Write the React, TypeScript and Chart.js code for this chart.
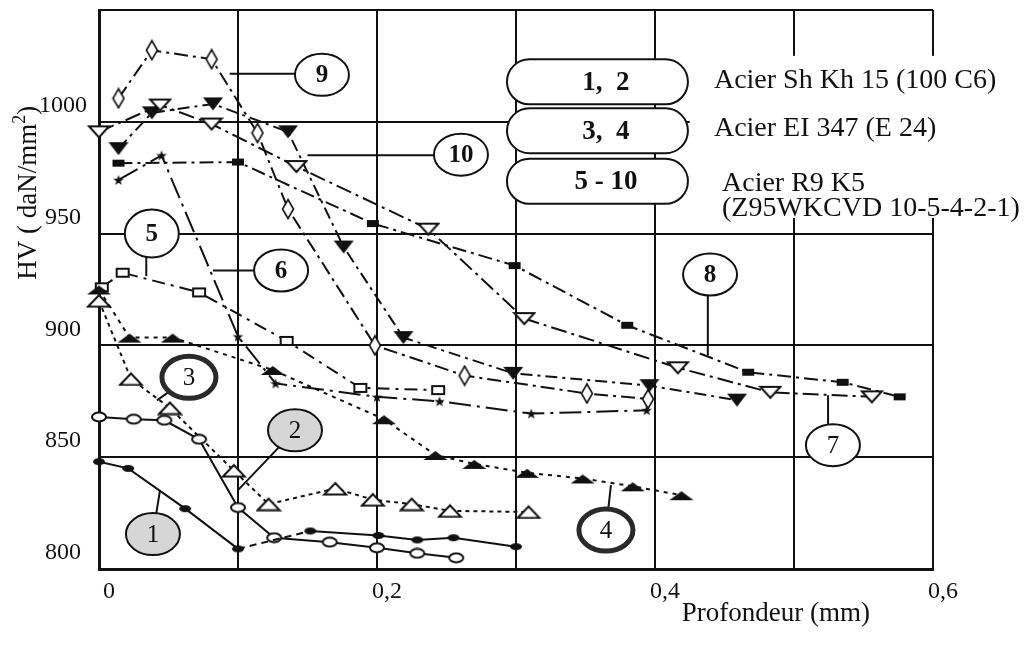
import React, { useEffect, useRef } from 'react';
import { Chart, registerables } from 'chart.js';

Chart.register(...registerables);

// ---- data: x = Profondeur (mm), y = HV (daN/mm²) ----
const curve1X = [0, 0.021, 0.062, 0.1, 0.152, 0.201, 0.229, 0.255, 0.3];
const curve1Y = [848, 845, 827, 809, 817, 815, 813, 814, 810];
const curve2X = [0, 0.025, 0.047, 0.072, 0.1, 0.126, 0.166, 0.2, 0.229, 0.257];
const curve2Y = [868, 867, 866.5, 858, 827.5, 814, 812, 809.5, 807, 805];
const curve3X = [0, 0.023, 0.051, 0.097, 0.122, 0.17, 0.197, 0.225, 0.2525, 0.309];
const curve3Y = [920, 885, 872, 844, 829, 836, 831, 829, 826, 825.5];
const curve4X = [0, 0.022, 0.053, 0.125, 0.205, 0.242, 0.27, 0.308, 0.348, 0.384, 0.419];
const curve4Y = [925, 903.5, 903.5, 889, 867, 851, 847, 843, 840.5, 837, 833];
const curve5X = [0.002, 0.017, 0.072, 0.135, 0.188, 0.244];
const curve5Y = [926, 932.5, 923.7, 902, 881, 880];
const curve6X = [0.014, 0.045, 0.1, 0.127, 0.2, 0.245, 0.311, 0.394];
const curve6Y = [974, 985, 904, 883, 877, 875, 869.5, 871];
const curve7X = [0, 0.044, 0.081, 0.142, 0.237, 0.306, 0.4165, 0.483, 0.556];
const curve7Y = [995.5, 1007.5, 999, 980, 952, 912, 890, 879, 877];
const curve8X = [0.014, 0.038, 0.082, 0.136, 0.176, 0.219, 0.298, 0.396, 0.459];
const curve8Y = [988, 1004, 1008, 995.5, 944, 903.5, 887.5, 882, 875.5];
const curve9X = [0.014, 0.038, 0.081, 0.114, 0.136, 0.1985, 0.263, 0.351, 0.395];
const curve9Y = [1010.5, 1032, 1028, 995, 961, 900, 886.5, 878.5, 876];
const curve10X = [0.014, 0.1, 0.197, 0.299, 0.38, 0.467, 0.535, 0.576];
const curve10Y = [981.5, 982, 954.5, 935.7, 909, 888, 883.5, 877];

const curveXs = [curve1X, curve2X, curve3X, curve4X, curve5X, curve6X, curve7X, curve8X, curve9X, curve10X];
const curveYs = [curve1Y, curve2Y, curve3Y, curve4Y, curve5Y, curve6Y, curve7Y, curve8Y, curve9Y, curve10Y];
const curveNames = ['1', '2', '3', '4', '5', '6', '7', '8', '9', '10'];
const curveDashes = [[], [], [4, 4], [4, 5], [13, 6, 3, 6], [22, 6, 3, 6], [16, 5, 3, 5], [12, 5, 3, 5], [14, 5, 3, 5], [14, 5, 3, 5]];

// axis ticks
const xTickLabels = ['0', '0,2', '0,4', '0,6'];
const yTickValues = [800, 850, 900, 950, 1000];
const yTitle = 'HV ( daN/mm';
const yTitleSup = '2';
const xTitle = 'Profondeur (mm)';

// numbered call-outs (data coordinates)
const calloutText = ['1', '2', '3', '4', '5', '6', '7', '8', '9', '10'];
const calloutX = [0.0388, 0.141, 0.0647, 0.3647, 0.038, 0.131, 0.528, 0.4396, 0.1604, 0.2604];
const calloutY = [815.6, 862, 885.7, 817.4, 950, 933.5, 855.4, 931.7, 1021, 985.3];
const leaderFromX = [0.0388, 0.141, 0.0647, 0.3647, 0.034, 0.131, 0.5245, 0.438, 0.1604, 0.2604];
const leaderFromY = [815.6, 862, 885.7, 817.4, 950, 933.5, 855.4, 931.7, 1021.5, 985];
const leaderToX = [0.0439, 0.1, 0.0417, 0.3683, 0.034, 0.082, 0.5245, 0.438, 0.094, 0.15];
const leaderToY = [835.3, 835.3, 875.4, 837.5, 931, 933.5, 877.7, 895.5, 1021.5, 985];
const calloutKind = ['shade', 'shade', 'thick', 'thick', 'plain', 'plain', 'plain', 'plain', 'plain', 'plain'];
const calloutBold = [false, false, false, false, true, true, false, true, true, true];

// legend (material key)
const legendKeys = ['1,  2', '3,  4', '5 - 10'];
const legendLines = [['Acier Sh Kh 15 (100 C6)'], ['Acier EI 347 (E 24)'], ['Acier R9 K5', '(Z95WKCVD 10-5-4-2-1)']];
const legendKeyCenterY = [1017.9, 996, 973.4];
const legendTextX = [0.4424, 0.4424, 0.4482];
const legendBaselines = [[1015.2], [993.75], [969.2, 958]];

const SERIF = "'Liberation Serif', 'Times New Roman', serif";
const INK = '#111';

function marker(w: number, h: number, draw: (g: CanvasRenderingContext2D) => void) {
  const c = document.createElement('canvas');
  c.width = w;
  c.height = h;
  const g = c.getContext('2d') as CanvasRenderingContext2D;
  g.fillStyle = INK;
  g.strokeStyle = INK;
  g.lineWidth = 2;
  draw(g);
  return c;
}

function poly(g: CanvasRenderingContext2D, pts: number[][]) {
  g.beginPath();
  g.moveTo(pts[0][0], pts[0][1]);
  for (let i = 1; i < pts.length; i++) g.lineTo(pts[i][0], pts[i][1]);
  g.closePath();
}

function makeMarkers() {
  const m1 = marker(14, 9, (g) => { g.beginPath(); g.ellipse(7, 4.5, 6, 3.5, 0, 0, Math.PI * 2); g.fill(); });
  const m2 = marker(18, 12, (g) => { g.beginPath(); g.ellipse(9, 6, 7, 4.5, 0, 0, Math.PI * 2); g.fillStyle = '#fff'; g.fill(); g.stroke(); });
  const m3 = marker(26, 15, (g) => { poly(g, [[2, 13.5], [13, 2], [24, 13.5]]); g.fillStyle = '#fff'; g.fill(); g.stroke(); });
  const m4 = marker(26, 12, (g) => { poly(g, [[1, 11], [13, 2], [25, 11]]); g.fill(); });
  const m5 = marker(16, 12, (g) => { g.fillStyle = '#fff'; g.fillRect(2, 2, 12, 8); g.strokeRect(2, 2, 12, 8); });
  const m6 = marker(12, 12, (g) => {
    const pts: number[][] = [];
    for (let i = 0; i < 10; i++) {
      const r = i % 2 === 0 ? 5.5 : 2.3;
      const a = -Math.PI / 2 + (i * Math.PI) / 5;
      pts.push([6 + r * Math.cos(a), 6.5 + r * Math.sin(a)]);
    }
    poly(g, pts);
    g.fill();
  });
  const m7 = marker(24, 15, (g) => { poly(g, [[2, 2], [22, 2], [12, 13]]); g.fillStyle = '#fff'; g.fill(); g.stroke(); });
  const m8 = marker(22, 15, (g) => { poly(g, [[1, 1], [21, 1], [11, 14]]); g.fill(); });
  const m9 = marker(14, 22, (g) => { g.lineWidth = 1.6; poly(g, [[7, 1.5], [12.5, 11], [7, 20.5], [1.5, 11]]); g.fillStyle = '#fff'; g.fill(); g.stroke(); });
  const m10 = marker(14, 9, (g) => { g.fillRect(1, 1, 12, 7); });
  return [m1, m2, m3, m4, m5, m6, m7, m8, m9, m10];
}

function ellipsePath(ctx: CanvasRenderingContext2D, cx: number, cy: number, rx: number, ry: number) {
  ctx.beginPath();
  ctx.ellipse(cx, cy, rx, ry, 0, 0, Math.PI * 2);
}

function pillPath(ctx: CanvasRenderingContext2D, x0: number, x1: number, cy: number, r: number) {
  ctx.beginPath();
  ctx.moveTo(x0 + r, cy - r);
  ctx.lineTo(x1 - r, cy - r);
  ctx.arc(x1 - r, cy, r, -Math.PI / 2, Math.PI / 2);
  ctx.lineTo(x0 + r, cy + r);
  ctx.arc(x0 + r, cy, r, Math.PI / 2, (3 * Math.PI) / 2);
  ctx.closePath();
}

const notesPlugin = {
  id: 'notes',
  beforeDatasetsDraw(chart: any) {
    const { ctx, scales } = chart;
    const X = (v: number) => scales.x.getPixelForValue(v);
    const Y = (v: number) => scales.y.getPixelForValue(v);
    // white panel behind the material key
    ctx.save();
    ctx.fillStyle = '#fff';
    const bx = X(0.425);
    const by = Y(1029.5);
    const bb = Y(957);
    ctx.fillRect(bx, by, chart.width - bx, bb - by);
    ctx.restore();
  },
  afterDatasetsDraw(chart: any) {
    const { ctx, scales, chartArea } = chart;
    const X = (v: number) => scales.x.getPixelForValue(v);
    const Y = (v: number) => scales.y.getPixelForValue(v);
    ctx.save();

    // call-outs
    for (let i = 0; i < calloutText.length; i++) {
      ctx.strokeStyle = INK;
      ctx.lineWidth = 2;
      ctx.setLineDash([]);
      ctx.beginPath();
      ctx.moveTo(X(leaderFromX[i]), Y(leaderFromY[i]));
      ctx.lineTo(X(leaderToX[i]), Y(leaderToY[i]));
      ctx.stroke();
    }
    for (let i = 0; i < calloutText.length; i++) {
      const cx = X(calloutX[i]);
      const cy = Y(calloutY[i]);
      const kind = calloutKind[i];
      const rx = 27;
      const ry = i === 4 ? 24 : 21;
      ellipsePath(ctx, cx, cy, rx, ry);
      ctx.fillStyle = kind === 'shade' ? '#d6d6d6' : '#fff';
      ctx.fill();
      if (kind === 'thick') {
        ctx.lineWidth = 5;
        ctx.strokeStyle = '#2a2a2a';
      } else {
        ctx.lineWidth = 2;
        ctx.strokeStyle = INK;
      }
      ctx.stroke();
      ctx.fillStyle = INK;
      ctx.font = `${calloutBold[i] ? 'bold ' : ''}25px ${SERIF}`;
      ctx.textAlign = 'center';
      ctx.textBaseline = 'middle';
      ctx.fillText(calloutText[i], cx, cy + 1);
    }

    // material key pills
    const px0 = X(0.2935);
    const px1 = X(0.4237);
    const kx = X(0.3647);
    for (let i = 0; i < legendKeys.length; i++) {
      const cy = Y(legendKeyCenterY[i]);
      pillPath(ctx, px0, px1, cy, 22.5);
      ctx.fillStyle = '#fff';
      ctx.fill();
      ctx.lineWidth = 2;
      ctx.strokeStyle = INK;
      ctx.stroke();
      ctx.fillStyle = INK;
      ctx.font = `bold 27px ${SERIF}`;
      ctx.textAlign = 'center';
      ctx.textBaseline = 'middle';
      ctx.fillText(legendKeys[i], kx, cy + 1);
    }
    // material names
    ctx.font = `28px ${SERIF}`;
    ctx.textAlign = 'left';
    ctx.textBaseline = 'alphabetic';
    for (let i = 0; i < legendLines.length; i++) {
      for (let j = 0; j < legendLines[i].length; j++) {
        ctx.fillText(legendLines[i][j], X(legendTextX[i]), Y(legendBaselines[i][j]));
      }
    }

    // axis titles
    ctx.font = `27px ${SERIF}`;
    ctx.textAlign = 'center';
    ctx.fillText(xTitle, X(0.487), chartArea.bottom + 52);

    ctx.translate(chartArea.left - 63, Y(968.3));
    ctx.rotate(-Math.PI / 2);
    ctx.textAlign = 'left';
    ctx.font = `27px ${SERIF}`;
    const w1 = ctx.measureText(yTitle).width;
    ctx.font = `18px ${SERIF}`;
    const w2 = ctx.measureText(yTitleSup).width;
    ctx.font = `27px ${SERIF}`;
    const w3 = ctx.measureText(')').width;
    const start = -(w1 + w2 + w3) / 2;
    ctx.fillText(yTitle, start, 0);
    ctx.font = `18px ${SERIF}`;
    ctx.fillText(yTitleSup, start + w1, -11);
    ctx.font = `27px ${SERIF}`;
    ctx.fillText(')', start + w1 + w2, 0);

    ctx.restore();
  },
};

export default function App() {
  const ref = useRef<HTMLCanvasElement | null>(null);

  useEffect(() => {
    const canvas = ref.current;
    if (!canvas) return;
    const markers = makeMarkers();
    const datasets = curveNames.map((name, i) => ({
      label: name,
      data: curveXs[i].map((x, k) => ({ x, y: curveYs[i][k] })),
      showLine: true,
      borderColor: INK,
      borderWidth: 2,
      borderDash: curveDashes[i],
      pointStyle: markers[i],
      pointRadius: 6,
      pointHoverRadius: 6,
      fill: false,
      tension: 0,
      clip: false as any,
      segment: i === 0 ? { borderDash: (c: any) => (c.p0DataIndex === 3 ? [7, 5] : undefined) } : undefined,
    }));

    const chart = new Chart(canvas, {
      type: 'scatter',
      data: { datasets },
      options: {
        animation: false,
        responsive: false,
        events: [],
        layout: { padding: { top: 10, right: 100, left: 0, bottom: 0 } },
        plugins: { legend: { display: false }, tooltip: { enabled: false }, title: { display: false } },
        scales: {
          x: {
            type: 'linear',
            min: 0,
            max: 0.6,
            afterFit: (s: any) => { s.height = 81; s.paddingLeft = 0; s.paddingRight = 0; },
            grid: { color: INK, lineWidth: 2, drawTicks: false },
            border: { display: true, color: INK, width: 3 },
            ticks: {
              stepSize: 0.1,
              autoSkip: false,
              maxRotation: 0,
              padding: 8,
              labelOffset: 10,
              color: INK,
              font: { family: SERIF, size: 24 },
              callback: (v: any) => {
                const k = Math.round(Number(v) * 10);
                return k % 2 === 0 ? xTickLabels[k / 2] : '';
              },
            },
          },
          y: {
            type: 'linear',
            min: 800,
            max: 1050,
            afterFit: (s: any) => { s.width = 99; s.paddingTop = 0; s.paddingBottom = 0; },
            grid: { color: INK, lineWidth: 2, drawTicks: false },
            border: { display: true, color: INK, width: 3 },
            ticks: {
              stepSize: 50,
              padding: 12,
              crossAlign: 'center',
              labelOffset: -16,
              color: INK,
              font: { family: SERIF, size: 24 },
              callback: (v: any) => (yTickValues.includes(Number(v)) ? String(v) : ''),
            },
          },
        },
      },
      plugins: [notesPlugin],
    } as any);

    return () => chart.destroy();
  }, []);

  return (
    <div style={{ position: 'absolute', left: 0, top: 0, width: 1033, height: 650, background: '#fff' }}>
      <canvas ref={ref} width={1033} height={650} style={{ display: 'block' }} />
    </div>
  );
}
